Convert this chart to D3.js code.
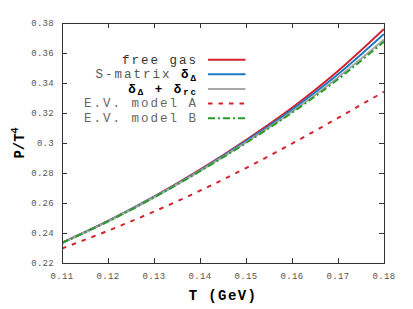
<!DOCTYPE html>
<html>
<head>
<meta charset="utf-8">
<script src="https://cdn.jsdelivr.net/npm/d3@7"></script>
<style>
  body { margin: 0; background: #fff; }
  svg { display: block; }
</style>
</head>
<body>
<div id="chart"></div>
<script>
// temperatures (GeV) and P/T^4
const temps = [0.11, 0.12, 0.13, 0.14, 0.15, 0.16, 0.17, 0.18]
const freeGas = [0.2335, 0.2480, 0.2642, 0.2822, 0.3020, 0.3235, 0.3480, 0.3760]
const sMatrix = [0.2335, 0.2479, 0.2640, 0.2818, 0.3012, 0.3222, 0.3458, 0.3727]
const deltaRc = [0.2335, 0.2478, 0.2638, 0.2814, 0.3004, 0.3208, 0.3437, 0.3690]
const evModelA = [0.2297, 0.2415, 0.2543, 0.2682, 0.2833, 0.2996, 0.3167, 0.3342]
const evModelB = [0.2334, 0.2477, 0.2637, 0.2812, 0.3000, 0.3202, 0.3425, 0.3676]

const xTicks = [0.11, 0.12, 0.13, 0.14, 0.15, 0.16, 0.17, 0.18]
const yTicks = [0.22, 0.24, 0.26, 0.28, 0.3, 0.32, 0.34, 0.36, 0.38]

const width = 413, height = 309
const margin = { top: 23, right: 29, bottom: 46, left: 62 }

const series = [
    { name: "free gas", values: freeGas, color: "#d3222e", dash: null },
    { name: "S-matrix", values: sMatrix, color: "#1c78c4", dash: null },
    { name: "rc", values: deltaRc, color: "#a8a8a8", dash: null },
    { name: "E.V. model A", values: evModelA, color: "#d3222e", dash: "4.5,6" },
    { name: "E.V. model B", values: evModelB, color: "#2a9a2a", dash: "7,3,2,3" }
]

const xScale = d3.scaleLinear().domain([0.11, 0.18]).range([margin.left, width - margin.right])
const yScale = d3.scaleLinear().domain([0.22, 0.38]).range([height - margin.bottom, margin.top])

const svg = d3.select("#chart").append("svg")
    .attr("width", width)
    .attr("height", height)

const mono = "'Liberation Mono', 'Courier New', monospace"
const x0 = margin.left, x1 = width - margin.right
const y0 = height - margin.bottom, y1 = margin.top

// ticks on all four sides, pointing inward
const tickLen = 5
const tickColor = "#333"
const ticks = svg.append("g").attr("stroke", tickColor).attr("stroke-width", 1)
yTicks.forEach(v => {
    const y = Math.round(yScale(v)) + 0.5
    ticks.append("line").attr("x1", x0).attr("x2", x0 + tickLen).attr("y1", y).attr("y2", y)
    ticks.append("line").attr("x1", x1).attr("x2", x1 - tickLen).attr("y1", y).attr("y2", y)
})
xTicks.forEach(v => {
    const x = Math.round(xScale(v)) + 0.5
    ticks.append("line").attr("x1", x).attr("x2", x).attr("y1", y0).attr("y2", y0 - tickLen)
    ticks.append("line").attr("x1", x).attr("x2", x).attr("y1", y1).attr("y2", y1 + tickLen)
})

// tick labels
svg.append("g").selectAll("text")
    .data(yTicks)
    .enter().append("text")
    .attr("x", x0 - 8)
    .attr("y", d => yScale(d))
    .attr("dy", "0.35em")
    .attr("text-anchor", "end")
    .style("font-family", mono)
    .style("font-size", "9px")
    .style("letter-spacing", "0.3px")
    .attr("fill", "#555")
    .text(d => String(+d.toFixed(2)))

svg.append("g").selectAll("text")
    .data(xTicks)
    .enter().append("text")
    .attr("x", d => xScale(d))
    .attr("y", y0 + 16)
    .attr("text-anchor", "middle")
    .style("font-family", mono)
    .style("font-size", "9px")
    .style("letter-spacing", "0.3px")
    .attr("fill", "#555")
    .text(d => d.toFixed(2))

// curves
const line = d3.line()
    .x((d, i) => xScale(temps[i]))
    .y(d => yScale(d))
    .curve(d3.curveMonotoneX)

svg.append("defs").append("clipPath").attr("id", "plot-clip")
    .append("rect").attr("x", x0).attr("y", y1).attr("width", x1 - x0).attr("height", y0 - y1)

const curves = svg.append("g").attr("clip-path", "url(#plot-clip)")
series.forEach(s => {
    curves.append("path")
        .datum(s.values)
        .attr("d", line)
        .attr("fill", "none")
        .attr("stroke", s.color)
        .attr("stroke-width", 2)
        .attr("stroke-dasharray", s.dash)
})

// frame
svg.append("rect")
    .attr("x", x0 + 0.5).attr("y", y1 + 0.5)
    .attr("width", x1 - x0).attr("height", y0 - y1)
    .attr("fill", "none")
    .attr("stroke", tickColor)
    .attr("stroke-width", 1)

// legend
const legendY = [59.7, 74.3, 89, 103.4, 118.2]
const legend = svg.append("g")
series.forEach((s, i) => {
    legend.append("line")
        .attr("x1", 208).attr("x2", 245.5)
        .attr("y1", legendY[i]).attr("y2", legendY[i])
        .attr("stroke", s.color)
        .attr("stroke-width", 2)
        .attr("stroke-dasharray", s.dash)
})

function legendText(i) {
    return legend.append("text")
        .attr("x", 198)
        .attr("y", legendY[i])
        .attr("dy", "0.32em")
        .attr("text-anchor", "end")
        .style("font-family", mono)
        .style("font-size", "12.5px")
        .style("letter-spacing", "2px")
}
legendText(0).attr("fill", "#333").text("free gas")

const t1 = legendText(1).attr("fill", "#555")
t1.append("tspan").text("S-matrix ")
t1.append("tspan").style("font-weight", "bold").attr("fill", "#000").text("δ")
t1.append("tspan").style("font-weight", "bold").attr("fill", "#000")
    .style("font-size", "9px").attr("dy", "0.25em").text("Δ")

const t2 = legendText(2).attr("fill", "#000").style("font-weight", "bold")
t2.append("tspan").text("δ")
t2.append("tspan").style("font-size", "9px").attr("dy", "0.25em").text("Δ")
t2.append("tspan").attr("dy", "-0.18em").text(" + δ")
t2.append("tspan").style("font-size", "9px").attr("dy", "0.25em").text("rc")

legendText(3).attr("fill", "#666").text("E.V. model A")
legendText(4).attr("fill", "#666").text("E.V. model B")

// axis titles
svg.append("text")
    .attr("x", (x0 + x1) / 2)
    .attr("y", 300)
    .attr("text-anchor", "middle")
    .style("font-family", mono)
    .style("font-size", "14px")
    .style("font-weight", "bold")
    .style("letter-spacing", "1.4px")
    .attr("fill", "#000")
    .text("T (GeV)")

const yt = svg.append("text")
    .attr("transform", `translate(24,${(y0 + y1) / 2}) rotate(-90)`)
    .attr("text-anchor", "middle")
    .style("font-family", mono)
    .style("font-size", "14px")
    .style("font-weight", "bold")
    .attr("fill", "#000")
yt.append("tspan").text("P/T")
yt.append("tspan").style("font-size", "10px").attr("dy", "-0.6em").text("4")
</script>
</body>
</html>
